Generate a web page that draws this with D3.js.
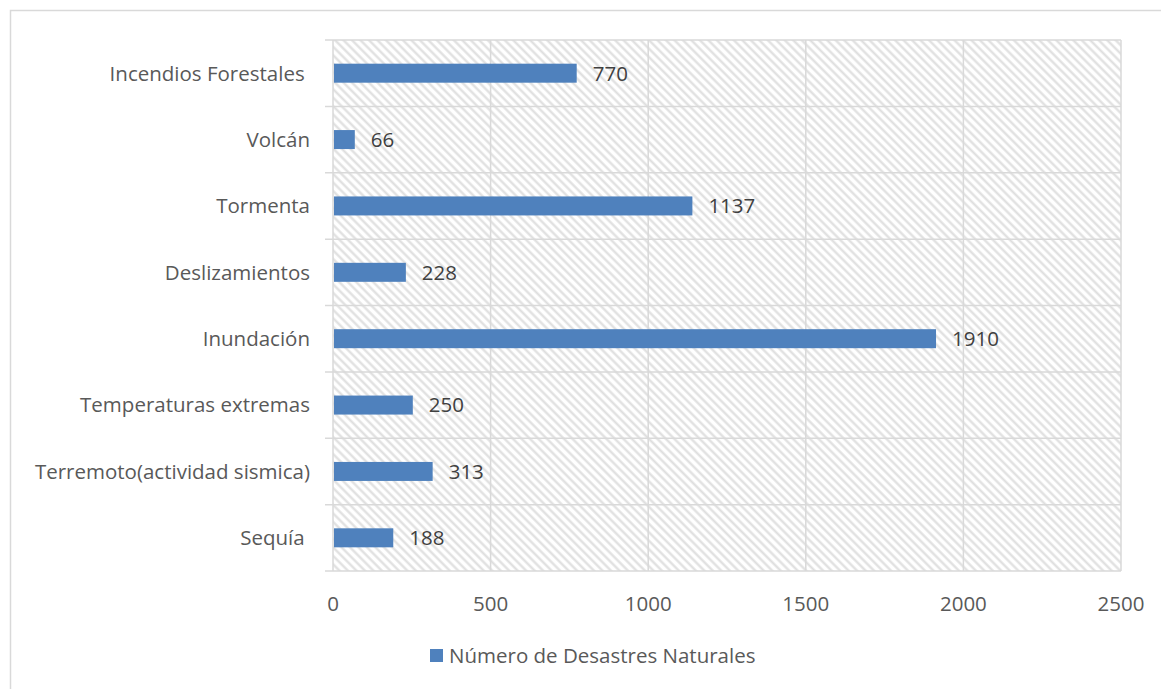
<!DOCTYPE html>
<html><head><meta charset="utf-8">
<script src="https://cdn.jsdelivr.net/npm/d3@7"></script>
<style>body{margin:0;background:#fff}svg{display:block}text{font-family:"Open Sans",sans-serif;white-space:pre}</style>
</head><body><svg id="c" width="1161" height="689"></svg>
<script>
const categories = ["Incendios Forestales ","Volcán","Tormenta","Deslizamientos","Inundación","Temperaturas extremas","Terremoto(actividad sismica)","Sequía "];
const values = [770,66,1137,228,1910,250,313,188];
const ticks = [0,500,1000,1500,2000,2500];
const seriesName = "Número de Desastres Naturales";

const svg = d3.select("#c");
const m = {l:333,r:1121,t:40,b:571};
const x = d3.scaleLinear().domain([0,2500]).range([m.l,m.r]);
const y = d3.scaleBand().domain(categories).range([m.t,m.b]).paddingInner(0).paddingOuter(0);

const defs = svg.append("defs");
const pat = defs.append("pattern").attr("id","hatch").attr("patternUnits","userSpaceOnUse")
  .attr("width",6).attr("height",6).attr("patternTransform","rotate(45)");
pat.append("rect").attr("width",6).attr("height",6).attr("fill","#fff");
pat.append("line").attr("x1",0).attr("y1",1.5).attr("x2",6).attr("y2",1.5).attr("stroke","#dedede").attr("stroke-width",2.2);

svg.append("rect").attr("x",10.5).attr("y",10.5).attr("width",1170).attr("height",700)
  .attr("fill","none").attr("stroke","#d9d9d9").attr("stroke-width",1.5);

svg.append("rect").attr("x",m.l).attr("y",m.t).attr("width",m.r-m.l).attr("height",m.b-m.t).attr("fill","url(#hatch)");

const grid = svg.append("g").attr("stroke","#d9d9d9").attr("stroke-width",1.5);
ticks.forEach(t=>grid.append("line").attr("x1",x(t)).attr("x2",x(t)).attr("y1",m.t).attr("y2",m.b));
const bounds = categories.map(c=>y(c)).concat([m.b]);
bounds.forEach(b=>grid.append("line").attr("x1",m.l-8).attr("x2",m.r).attr("y1",b).attr("y2",b));

const bh = 19;
svg.append("g").selectAll("rect").data(values).join("rect")
  .attr("x",x(0)+1).attr("y",(d,i)=>y(categories[i])+y.bandwidth()/2-bh/2)
  .attr("width",d=>x(d)-x(0)).attr("height",bh).attr("fill","#4f81bd");

svg.append("g").selectAll("text").data(values).join("text")
  .attr("x",d=>x(d)+17).attr("y",(d,i)=>y(categories[i])+y.bandwidth()/2)
  .attr("dy","0.36em").attr("font-size",20.5).attr("fill","#404040").text(d=>d);

svg.append("g").selectAll("text").data(categories).join("text")
  .attr("x",310).attr("y",c=>y(c)+y.bandwidth()/2).attr("dy","0.36em")
  .attr("text-anchor","end").attr("font-size",20.5).attr("fill","#595959").text(c=>c);

svg.append("g").selectAll("text").data(ticks).join("text")
  .attr("x",t=>x(t)).attr("y",604).attr("dy","0.36em").attr("text-anchor","middle")
  .attr("font-size",20.5).attr("fill","#595959").text(t=>t);

svg.append("rect").attr("x",430).attr("y",649).attr("width",13).attr("height",13).attr("fill","#4f81bd");
svg.append("text").attr("x",449).attr("y",656).attr("dy","0.36em").attr("font-size",20.5).attr("fill","#595959").text(seriesName);
</script></body></html>
